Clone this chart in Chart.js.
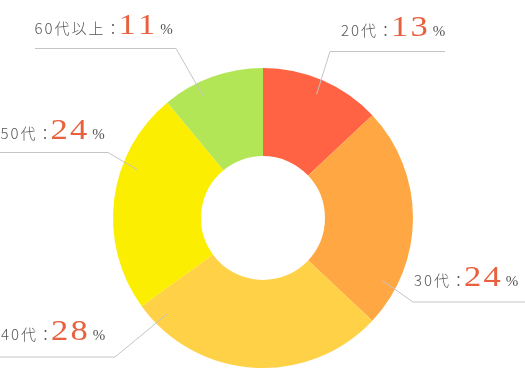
<!DOCTYPE html>
<html><head><meta charset="utf-8">
<script src="https://cdn.jsdelivr.net/npm/chart.js@4"></script>
<style>html,body{margin:0;padding:0;background:#fff;overflow:hidden}</style>
</head><body>
<canvas id="c" width="525" height="369"></canvas>
<script>
// ---- data ----
const categories = ['20代', '30代', '40代', '50代', '60代以上'];
const values = [13, 24, 28, 24, 11];
const unit = '%';

// ---- styling / annotation layout (not data) ----
const sliceColors = ['#FF6343', '#FFA843', '#FFD146', '#FCEE00', '#B2E657'];
const leaderAt = [0.5, 0.82, 0.91, 0.66, 0.34]; // position of leader anchor along each slice's angle
const labelLayout = [
  {elbow: [330, 51.5], end: 445, x: 341, y: 36},
  {elbow: [413, 302], end: 525, x: 414, y: 286},
  {elbow: [115, 357], end: 0, x: 1, y: 340},
  {elbow: [108, 152.5], end: 0, x: 0.5, y: 138.5},
  {elbow: [176, 48.5], end: 35, x: 34.5, y: 34}
];

function drawSpaced(ctx, str, x, y, spacing) {
  for (const ch of str) {
    ctx.fillText(ch, x, y);
    x += ctx.measureText(ch).width + spacing;
  }
  return x - spacing;
}

const leaderPlugin = {
  id: 'leaders',
  afterDraw(chart) {
    const ctx = chart.ctx;
    const meta = chart.getDatasetMeta(0);
    meta.data.forEach((arc, i) => {
      const p = arc.getProps(['x', 'y', 'startAngle', 'endAngle', 'outerRadius'], true);
      const a = p.startAngle + (p.endAngle - p.startAngle) * leaderAt[i];
      const ax = p.x + Math.cos(a) * p.outerRadius * 0.9;
      const ay = p.y + Math.sin(a) * p.outerRadius * 0.9;
      const L = labelLayout[i];
      ctx.save();
      ctx.strokeStyle = '#c4c4c4';
      ctx.lineWidth = 1;
      ctx.beginPath();
      ctx.moveTo(ax, ay);
      ctx.lineTo(L.elbow[0], L.elbow[1]);
      ctx.lineTo(L.end, L.elbow[1]);
      ctx.stroke();

      ctx.textBaseline = 'alphabetic';
      ctx.textAlign = 'left';
      ctx.fillStyle = '#555555';
      ctx.font = '300 15px "Noto Sans CJK JP"';
      let x = drawSpaced(ctx, categories[i] + '：', L.x, L.y, 2);
      // number
      const sx = 1.15;
      ctx.font = '30px "Liberation Serif"';
      ctx.fillStyle = '#E8603E';
      ctx.save();
      ctx.translate(x - 2, L.y);
      ctx.scale(sx, 1);
      const w = drawSpaced(ctx, String(values[i]), 0, 0, 2);
      ctx.restore();
      x = x - 2 + w * sx;
      ctx.fillStyle = '#555555';
      ctx.font = '15px "Liberation Serif"';
      ctx.fillText(unit, x + 5, L.y);
      ctx.restore();
    });
  }
};

new Chart(document.getElementById('c'), {
  type: 'doughnut',
  data: {
    labels: categories,
    datasets: [{
      data: values,
      backgroundColor: sliceColors,
      borderWidth: 0
    }]
  },
  options: {
    responsive: false,
    animation: false,
    cutout: '41.3%',
    layout: {padding: {left: 113, right: 112, top: 68, bottom: 1}},
    plugins: {legend: {display: false}, tooltip: {enabled: false}}
  },
  plugins: [leaderPlugin]
});
</script>
</body></html>
